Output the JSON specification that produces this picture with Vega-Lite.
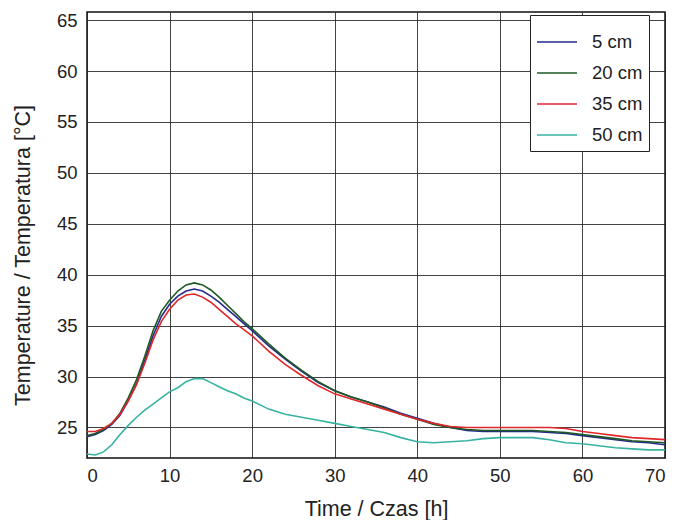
{
  "$schema": "https://vega.github.io/schema/vega-lite/v6.json",
  "width": 578,
  "height": 446,
  "autosize": "none",
  "padding": {"left": 87, "top": 12, "right": 10, "bottom": 62},
  "background": "white",
  "config": {
    "font": "Liberation Sans",
    "view": {"stroke": "#111", "strokeWidth": 1.5},
    "axis": {"labelFont": "Liberation Sans", "titleFont": "Liberation Sans", "labelFontSize": 18.5, "titleFontSize": 21.5, "titleFontWeight": "normal", "labelColor": "#222", "titleColor": "#222", "gridColor": "#222", "gridOpacity": 0.85, "gridWidth": 1, "ticks": false, "domain": false}
  },
  "datasets": {
    "d": [
      {"t":0,"T":24.1,"s":"5 cm"},{"t":1,"T":24.3,"s":"5 cm"},{"t":2,"T":24.7,"s":"5 cm"},{"t":3,"T":25.3,"s":"5 cm"},{"t":4,"T":26.2,"s":"5 cm"},{"t":5,"T":27.6,"s":"5 cm"},{"t":6,"T":29.3,"s":"5 cm"},{"t":7,"T":31.6,"s":"5 cm"},{"t":8,"T":34.0,"s":"5 cm"},{"t":9,"T":35.9,"s":"5 cm"},{"t":10,"T":37.1,"s":"5 cm"},{"t":11,"T":37.9,"s":"5 cm"},{"t":12,"T":38.4,"s":"5 cm"},{"t":13,"T":38.6,"s":"5 cm"},{"t":14,"T":38.4,"s":"5 cm"},{"t":15,"T":37.9,"s":"5 cm"},{"t":16,"T":37.3,"s":"5 cm"},{"t":17,"T":36.6,"s":"5 cm"},{"t":18,"T":35.9,"s":"5 cm"},{"t":19,"T":35.2,"s":"5 cm"},{"t":20,"T":34.5,"s":"5 cm"},{"t":22,"T":33.0,"s":"5 cm"},{"t":24,"T":31.7,"s":"5 cm"},{"t":26,"T":30.5,"s":"5 cm"},{"t":28,"T":29.4,"s":"5 cm"},{"t":30,"T":28.6,"s":"5 cm"},{"t":32,"T":28.0,"s":"5 cm"},{"t":34,"T":27.5,"s":"5 cm"},{"t":36,"T":27.0,"s":"5 cm"},{"t":38,"T":26.4,"s":"5 cm"},{"t":40,"T":25.9,"s":"5 cm"},{"t":42,"T":25.4,"s":"5 cm"},{"t":44,"T":25.0,"s":"5 cm"},{"t":46,"T":24.7,"s":"5 cm"},{"t":48,"T":24.6,"s":"5 cm"},{"t":50,"T":24.6,"s":"5 cm"},{"t":52,"T":24.6,"s":"5 cm"},{"t":54,"T":24.6,"s":"5 cm"},{"t":56,"T":24.5,"s":"5 cm"},{"t":58,"T":24.4,"s":"5 cm"},{"t":60,"T":24.2,"s":"5 cm"},{"t":62,"T":24.0,"s":"5 cm"},{"t":64,"T":23.8,"s":"5 cm"},{"t":66,"T":23.6,"s":"5 cm"},{"t":68,"T":23.5,"s":"5 cm"},{"t":70,"T":23.3,"s":"5 cm"},
      {"t":0,"T":24.2,"s":"20 cm"},{"t":1,"T":24.4,"s":"20 cm"},{"t":2,"T":24.8,"s":"20 cm"},{"t":3,"T":25.4,"s":"20 cm"},{"t":4,"T":26.4,"s":"20 cm"},{"t":5,"T":27.9,"s":"20 cm"},{"t":6,"T":29.7,"s":"20 cm"},{"t":7,"T":32.0,"s":"20 cm"},{"t":8,"T":34.5,"s":"20 cm"},{"t":9,"T":36.4,"s":"20 cm"},{"t":10,"T":37.5,"s":"20 cm"},{"t":11,"T":38.4,"s":"20 cm"},{"t":12,"T":39.0,"s":"20 cm"},{"t":13,"T":39.2,"s":"20 cm"},{"t":14,"T":39.0,"s":"20 cm"},{"t":15,"T":38.5,"s":"20 cm"},{"t":16,"T":37.8,"s":"20 cm"},{"t":17,"T":37.0,"s":"20 cm"},{"t":18,"T":36.2,"s":"20 cm"},{"t":19,"T":35.4,"s":"20 cm"},{"t":20,"T":34.7,"s":"20 cm"},{"t":22,"T":33.2,"s":"20 cm"},{"t":24,"T":31.8,"s":"20 cm"},{"t":26,"T":30.6,"s":"20 cm"},{"t":28,"T":29.5,"s":"20 cm"},{"t":30,"T":28.6,"s":"20 cm"},{"t":32,"T":28.0,"s":"20 cm"},{"t":34,"T":27.5,"s":"20 cm"},{"t":36,"T":26.9,"s":"20 cm"},{"t":38,"T":26.3,"s":"20 cm"},{"t":40,"T":25.8,"s":"20 cm"},{"t":42,"T":25.3,"s":"20 cm"},{"t":44,"T":25.0,"s":"20 cm"},{"t":46,"T":24.8,"s":"20 cm"},{"t":48,"T":24.7,"s":"20 cm"},{"t":50,"T":24.7,"s":"20 cm"},{"t":52,"T":24.7,"s":"20 cm"},{"t":54,"T":24.7,"s":"20 cm"},{"t":56,"T":24.6,"s":"20 cm"},{"t":58,"T":24.5,"s":"20 cm"},{"t":60,"T":24.3,"s":"20 cm"},{"t":62,"T":24.1,"s":"20 cm"},{"t":64,"T":23.9,"s":"20 cm"},{"t":66,"T":23.7,"s":"20 cm"},{"t":68,"T":23.6,"s":"20 cm"},{"t":70,"T":23.5,"s":"20 cm"},
      {"t":0,"T":24.6,"s":"35 cm"},{"t":1,"T":24.6,"s":"35 cm"},{"t":2,"T":24.9,"s":"35 cm"},{"t":3,"T":25.4,"s":"35 cm"},{"t":4,"T":26.3,"s":"35 cm"},{"t":5,"T":27.6,"s":"35 cm"},{"t":6,"T":29.2,"s":"35 cm"},{"t":7,"T":31.3,"s":"35 cm"},{"t":8,"T":33.6,"s":"35 cm"},{"t":9,"T":35.4,"s":"35 cm"},{"t":10,"T":36.6,"s":"35 cm"},{"t":11,"T":37.5,"s":"35 cm"},{"t":12,"T":38.0,"s":"35 cm"},{"t":13,"T":38.1,"s":"35 cm"},{"t":14,"T":37.8,"s":"35 cm"},{"t":15,"T":37.3,"s":"35 cm"},{"t":16,"T":36.6,"s":"35 cm"},{"t":17,"T":35.9,"s":"35 cm"},{"t":18,"T":35.2,"s":"35 cm"},{"t":19,"T":34.6,"s":"35 cm"},{"t":20,"T":34.0,"s":"35 cm"},{"t":22,"T":32.5,"s":"35 cm"},{"t":24,"T":31.2,"s":"35 cm"},{"t":26,"T":30.1,"s":"35 cm"},{"t":28,"T":29.1,"s":"35 cm"},{"t":30,"T":28.3,"s":"35 cm"},{"t":32,"T":27.8,"s":"35 cm"},{"t":34,"T":27.3,"s":"35 cm"},{"t":36,"T":26.8,"s":"35 cm"},{"t":38,"T":26.3,"s":"35 cm"},{"t":40,"T":25.8,"s":"35 cm"},{"t":42,"T":25.4,"s":"35 cm"},{"t":44,"T":25.1,"s":"35 cm"},{"t":46,"T":25.0,"s":"35 cm"},{"t":48,"T":25.0,"s":"35 cm"},{"t":50,"T":25.0,"s":"35 cm"},{"t":52,"T":25.0,"s":"35 cm"},{"t":54,"T":25.0,"s":"35 cm"},{"t":56,"T":25.0,"s":"35 cm"},{"t":58,"T":24.9,"s":"35 cm"},{"t":60,"T":24.6,"s":"35 cm"},{"t":62,"T":24.4,"s":"35 cm"},{"t":64,"T":24.2,"s":"35 cm"},{"t":66,"T":24.0,"s":"35 cm"},{"t":68,"T":23.9,"s":"35 cm"},{"t":70,"T":23.8,"s":"35 cm"},
      {"t":0,"T":22.4,"s":"50 cm"},{"t":1,"T":22.3,"s":"50 cm"},{"t":2,"T":22.6,"s":"50 cm"},{"t":3,"T":23.3,"s":"50 cm"},{"t":4,"T":24.3,"s":"50 cm"},{"t":5,"T":25.2,"s":"50 cm"},{"t":6,"T":26.0,"s":"50 cm"},{"t":7,"T":26.7,"s":"50 cm"},{"t":8,"T":27.3,"s":"50 cm"},{"t":9,"T":27.9,"s":"50 cm"},{"t":10,"T":28.5,"s":"50 cm"},{"t":11,"T":28.9,"s":"50 cm"},{"t":12,"T":29.5,"s":"50 cm"},{"t":13,"T":29.8,"s":"50 cm"},{"t":14,"T":29.8,"s":"50 cm"},{"t":15,"T":29.4,"s":"50 cm"},{"t":16,"T":29.0,"s":"50 cm"},{"t":17,"T":28.6,"s":"50 cm"},{"t":18,"T":28.3,"s":"50 cm"},{"t":19,"T":27.9,"s":"50 cm"},{"t":20,"T":27.6,"s":"50 cm"},{"t":22,"T":26.8,"s":"50 cm"},{"t":24,"T":26.3,"s":"50 cm"},{"t":26,"T":26.0,"s":"50 cm"},{"t":28,"T":25.7,"s":"50 cm"},{"t":30,"T":25.4,"s":"50 cm"},{"t":32,"T":25.1,"s":"50 cm"},{"t":34,"T":24.8,"s":"50 cm"},{"t":36,"T":24.5,"s":"50 cm"},{"t":38,"T":24.0,"s":"50 cm"},{"t":40,"T":23.6,"s":"50 cm"},{"t":42,"T":23.5,"s":"50 cm"},{"t":44,"T":23.6,"s":"50 cm"},{"t":46,"T":23.7,"s":"50 cm"},{"t":48,"T":23.9,"s":"50 cm"},{"t":50,"T":24.0,"s":"50 cm"},{"t":52,"T":24.0,"s":"50 cm"},{"t":54,"T":24.0,"s":"50 cm"},{"t":56,"T":23.8,"s":"50 cm"},{"t":58,"T":23.5,"s":"50 cm"},{"t":60,"T":23.4,"s":"50 cm"},{"t":62,"T":23.2,"s":"50 cm"},{"t":64,"T":23.0,"s":"50 cm"},{"t":66,"T":22.9,"s":"50 cm"},{"t":68,"T":22.8,"s":"50 cm"},{"t":70,"T":22.8,"s":"50 cm"}
    ]
  },
  "data": {"name": "d"},
  "mark": {"type": "line", "strokeWidth": 1.6, "clip": true},
  "encoding": {
    "x": {"field": "t", "type": "quantitative", "title": "Time / Czas [h]",
      "scale": {"domain": [0, 70], "nice": false, "zero": false},
      "axis": {"values": [0,10,20,30,40,50,60,70], "labelPadding": 8, "titlePadding": 14}},
    "y": {"field": "T", "type": "quantitative", "title": "Temperature / Temperatura [°C]",
      "scale": {"domain": [22, 65.8], "nice": false, "zero": false},
      "axis": {"values": [25,30,35,40,45,50,55,60,65], "labelPadding": 10, "titlePadding": 22, "titleY": 243}},
    "color": {"field": "s", "type": "nominal", "title": null,
      "sort": ["5 cm", "20 cm", "35 cm", "50 cm"],
      "scale": {"domain": ["5 cm", "20 cm", "35 cm", "50 cm"], "range": ["#27298c", "#1d5a22", "#e0262a", "#35b3a0"]},
      "legend": {"orient": "none", "legendX": 443, "legendY": 3, "symbolType": "stroke", "symbolSize": 1600, "symbolStrokeWidth": 1.6, "rowPadding": -15, "labelFontSize": 18.5, "labelFont": "Liberation Sans", "labelColor": "#222", "labelOffset": 14, "strokeColor": "#222", "fillColor": "white", "padding": 6, "offset": 0}}
  }
}
